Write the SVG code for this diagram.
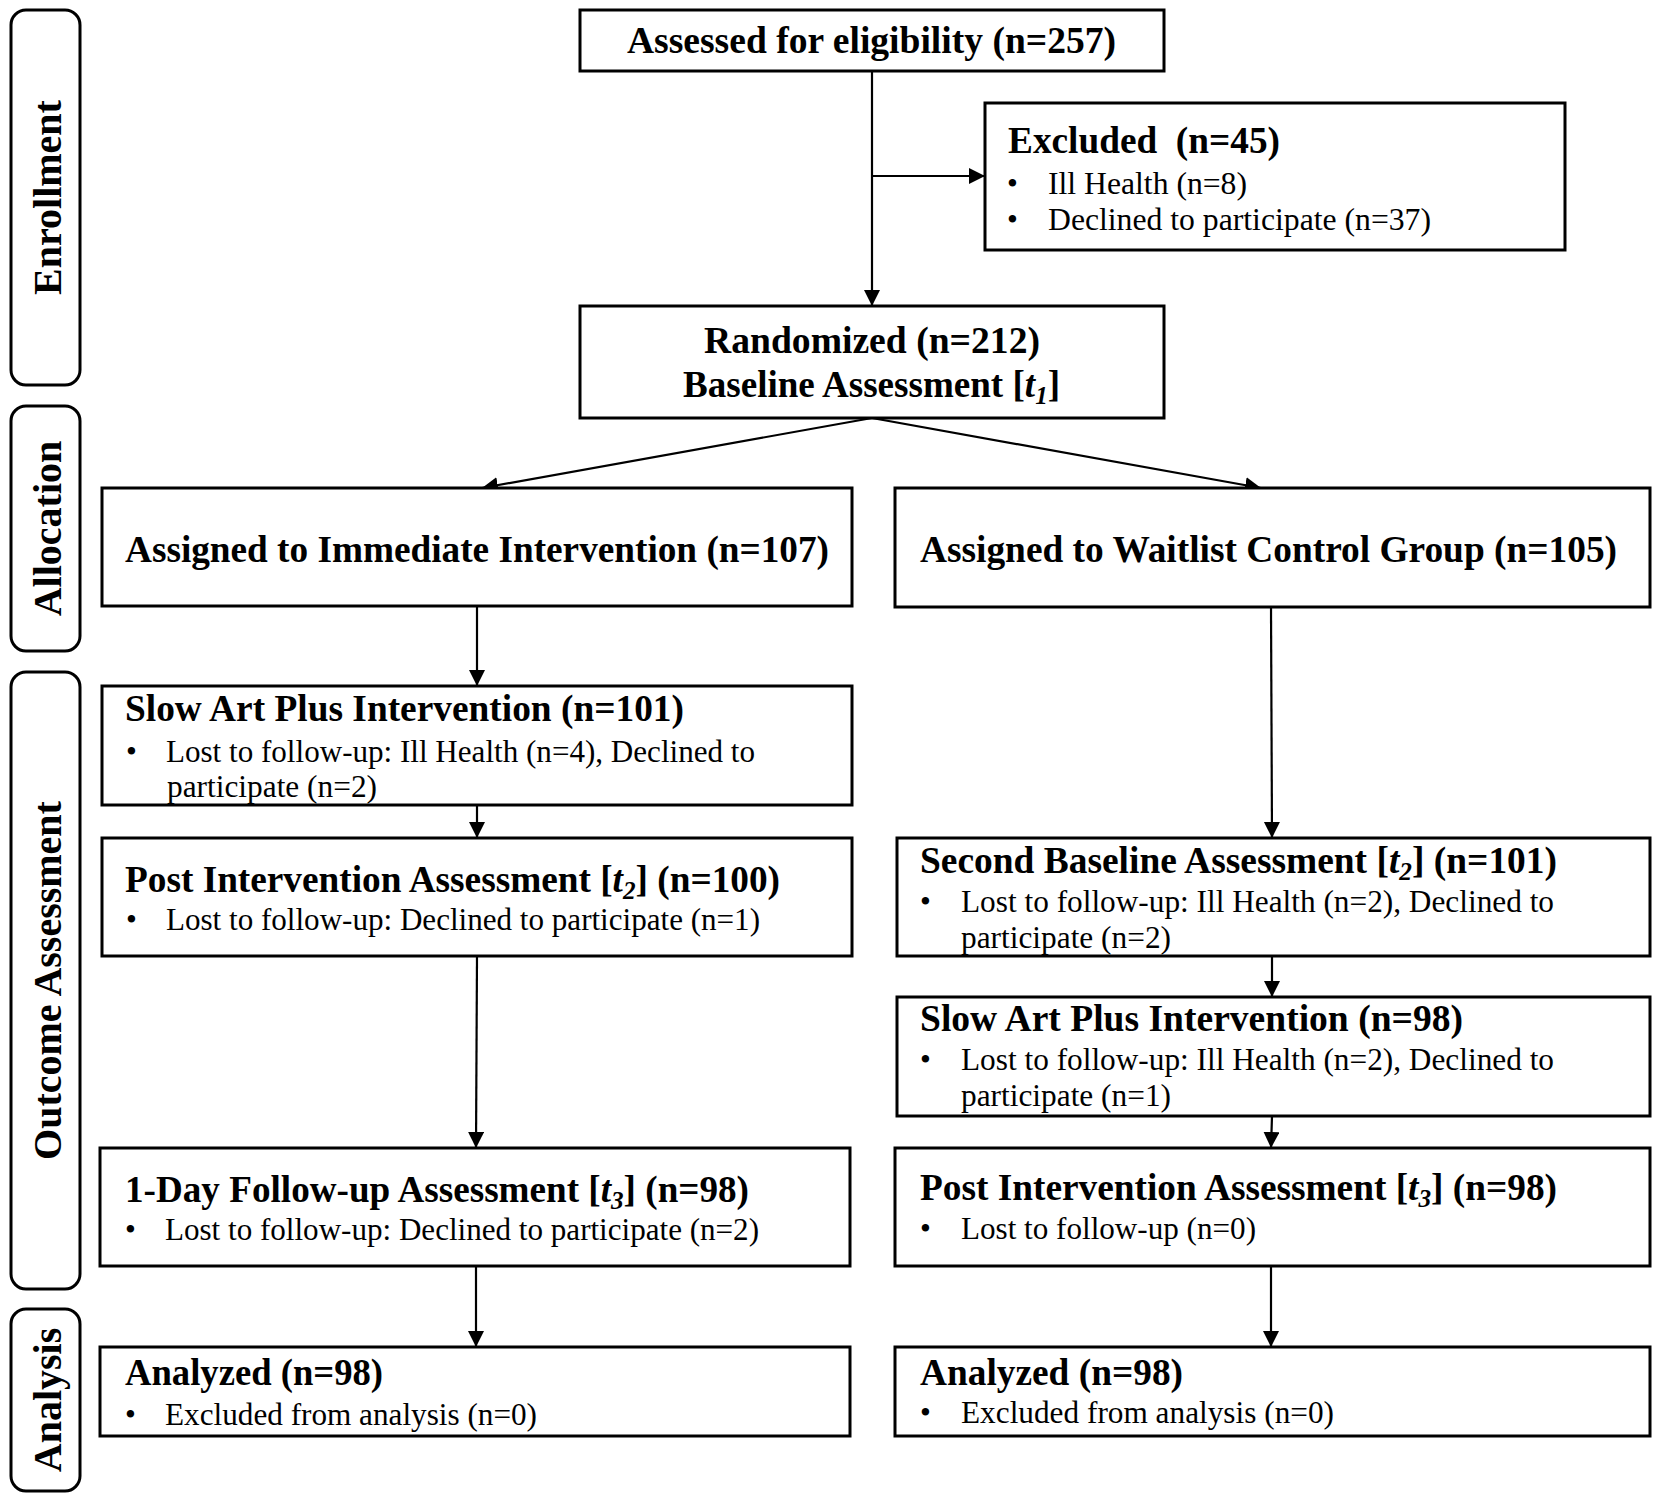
<svg xmlns="http://www.w3.org/2000/svg" width="1654" height="1506" viewBox="0 0 1654 1506">
<defs>
<style>
.box{fill:#fff;stroke:#000;stroke-width:3}
.lane{fill:#fff;stroke:#000;stroke-width:3}
.conn{fill:none;stroke:#000;stroke-width:2.2}
text{font-family:"Liberation Serif","Times New Roman",serif;fill:#000}
.h{font-size:37px;font-weight:bold}
.ha{font-size:38px;font-weight:bold}
.b{font-size:31px}
.lab{font-size:40px;font-weight:bold;text-anchor:middle}
.it{font-style:italic}
</style>
<marker id="ah" markerUnits="userSpaceOnUse" markerWidth="18" markerHeight="18" refX="16" refY="8" orient="auto">
<path d="M0,0 L16,8 L0,16 z" fill="#000"/>
</marker>
</defs>
<rect width="1654" height="1506" fill="#fff"/>

<g id="lanes">
<g id="lane-enrollment"><rect class="lane" x="11" y="10" width="69" height="375" rx="15"/><text class="lab" transform="translate(61,197.5) rotate(-90)">Enrollment</text></g>
<g id="lane-allocation"><rect class="lane" x="11" y="406" width="69" height="245" rx="15"/><text class="lab" transform="translate(61,528.5) rotate(-90)">Allocation</text></g>
<g id="lane-outcome"><rect class="lane" x="11" y="672" width="69" height="617" rx="15"/><text class="lab" transform="translate(61,980.5) rotate(-90)">Outcome Assessment</text></g>
<g id="lane-analysis"><rect class="lane" x="11" y="1309" width="69" height="182" rx="15"/><text class="lab" transform="translate(61,1400) rotate(-90)">Analysis</text></g>
</g>

<g id="connectors">
<line class="conn" x1="872" y1="71" x2="872" y2="306" marker-end="url(#ah)"/>
<line class="conn" x1="872" y1="176" x2="985" y2="176" marker-end="url(#ah)"/>
<line class="conn" x1="872" y1="418" x2="482" y2="488" marker-end="url(#ah)"/>
<line class="conn" x1="872" y1="418" x2="1261" y2="488" marker-end="url(#ah)"/>
<line class="conn" x1="477" y1="606" x2="477" y2="686" marker-end="url(#ah)"/>
<line class="conn" x1="477" y1="805" x2="477" y2="838" marker-end="url(#ah)"/>
<line class="conn" x1="477" y1="956" x2="476" y2="1148" marker-end="url(#ah)"/>
<line class="conn" x1="476" y1="1266" x2="476" y2="1347" marker-end="url(#ah)"/>
<line class="conn" x1="1271" y1="607" x2="1272" y2="838" marker-end="url(#ah)"/>
<line class="conn" x1="1272" y1="956" x2="1272" y2="997" marker-end="url(#ah)"/>
<line class="conn" x1="1272" y1="1116" x2="1271" y2="1148" marker-end="url(#ah)"/>
<line class="conn" x1="1271" y1="1266" x2="1271" y2="1347" marker-end="url(#ah)"/>
</g>

<g id="n-assessed">
<rect class="box" x="580" y="10" width="584" height="61"/>
<text class="h" x="627" y="53" textLength="489" lengthAdjust="spacingAndGlyphs">Assessed for eligibility (n=257)</text>
</g>

<g id="n-excluded">
<rect class="box" x="985" y="103" width="580" height="147"/>
<text class="h" x="1008" y="153" textLength="272" lengthAdjust="spacingAndGlyphs" xml:space="preserve">Excluded  (n=45)</text>
<text class="b" x="1007" y="194">•</text>
<text class="b" x="1048" y="194" textLength="199" lengthAdjust="spacingAndGlyphs">Ill Health (n=8)</text>
<text class="b" x="1007" y="230">•</text>
<text class="b" x="1048" y="230" textLength="383" lengthAdjust="spacingAndGlyphs">Declined to participate (n=37)</text>
</g>

<g id="n-randomized">
<rect class="box" x="580" y="306" width="584" height="112"/>
<text class="h" x="704" y="353" textLength="336" lengthAdjust="spacingAndGlyphs">Randomized (n=212)</text>
<text class="h" x="683" y="397" textLength="377" lengthAdjust="spacingAndGlyphs">Baseline Assessment [<tspan class="it">t</tspan><tspan class="it" font-size="25" dy="7">1</tspan><tspan dy="-7">]</tspan></text>
</g>

<g id="n-immediate">
<rect class="box" x="102" y="488" width="750" height="118"/>
<text class="ha" x="125" y="562" textLength="704" lengthAdjust="spacingAndGlyphs">Assigned to Immediate Intervention (n=107)</text>
</g>

<g id="n-waitlist">
<rect class="box" x="895" y="488" width="755" height="119"/>
<text class="ha" x="920" y="562" textLength="697" lengthAdjust="spacingAndGlyphs">Assigned to Waitlist Control Group (n=105)</text>
</g>

<g id="n-slowart-left">
<rect class="box" x="102" y="686" width="750" height="119"/>
<text class="h" x="125" y="721" textLength="559" lengthAdjust="spacingAndGlyphs">Slow Art Plus Intervention (n=101)</text>
<text class="b" x="126" y="762">•</text>
<text class="b" x="166" y="762" textLength="589" lengthAdjust="spacingAndGlyphs">Lost to follow-up: Ill Health (n=4), Declined to</text>
<text class="b" x="167" y="797" textLength="210" lengthAdjust="spacingAndGlyphs">participate (n=2)</text>
</g>

<g id="n-post-t2">
<rect class="box" x="102" y="838" width="750" height="118"/>
<text class="h" x="125" y="892" textLength="655" lengthAdjust="spacingAndGlyphs">Post Intervention Assessment [<tspan class="it">t</tspan><tspan class="it" font-size="25" dy="7">2</tspan><tspan dy="-7">] (n=100)</tspan></text>
<text class="b" x="126" y="930">•</text>
<text class="b" x="166" y="930" textLength="594" lengthAdjust="spacingAndGlyphs">Lost to follow-up: Declined to participate (n=1)</text>
</g>

<g id="n-followup-t3">
<rect class="box" x="100" y="1148" width="750" height="118"/>
<text class="h" x="125" y="1202" textLength="624" lengthAdjust="spacingAndGlyphs">1-Day Follow-up Assessment [<tspan class="it">t</tspan><tspan class="it" font-size="25" dy="7">3</tspan><tspan dy="-7">] (n=98)</tspan></text>
<text class="b" x="125" y="1240">•</text>
<text class="b" x="165" y="1240" textLength="594" lengthAdjust="spacingAndGlyphs">Lost to follow-up: Declined to participate (n=2)</text>
</g>

<g id="n-analyzed-left">
<rect class="box" x="100" y="1347" width="750" height="89"/>
<text class="h" x="125" y="1385" textLength="258" lengthAdjust="spacingAndGlyphs">Analyzed (n=98)</text>
<text class="b" x="125" y="1425">•</text>
<text class="b" x="165" y="1425" textLength="372" lengthAdjust="spacingAndGlyphs">Excluded from analysis (n=0)</text>
</g>

<g id="n-second-baseline">
<rect class="box" x="897" y="838" width="753" height="118"/>
<text class="h" x="920" y="873" textLength="637" lengthAdjust="spacingAndGlyphs">Second Baseline Assessment [<tspan class="it">t</tspan><tspan class="it" font-size="25" dy="7">2</tspan><tspan dy="-7">] (n=101)</tspan></text>
<text class="b" x="920" y="912">•</text>
<text class="b" x="961" y="912" textLength="593" lengthAdjust="spacingAndGlyphs">Lost to follow-up: Ill Health (n=2), Declined to</text>
<text class="b" x="961" y="948" textLength="210" lengthAdjust="spacingAndGlyphs">participate (n=2)</text>
</g>

<g id="n-slowart-right">
<rect class="box" x="897" y="997" width="753" height="119"/>
<text class="h" x="920" y="1031" textLength="543" lengthAdjust="spacingAndGlyphs">Slow Art Plus Intervention (n=98)</text>
<text class="b" x="920" y="1070">•</text>
<text class="b" x="961" y="1070" textLength="593" lengthAdjust="spacingAndGlyphs">Lost to follow-up: Ill Health (n=2), Declined to</text>
<text class="b" x="961" y="1106" textLength="210" lengthAdjust="spacingAndGlyphs">participate (n=1)</text>
</g>

<g id="n-post-t3">
<rect class="box" x="895" y="1148" width="755" height="118"/>
<text class="h" x="920" y="1200" textLength="637" lengthAdjust="spacingAndGlyphs">Post Intervention Assessment [<tspan class="it">t</tspan><tspan class="it" font-size="25" dy="7">3</tspan><tspan dy="-7">] (n=98)</tspan></text>
<text class="b" x="920" y="1239">•</text>
<text class="b" x="961" y="1239" textLength="295" lengthAdjust="spacingAndGlyphs">Lost to follow-up (n=0)</text>
</g>

<g id="n-analyzed-right">
<rect class="box" x="895" y="1347" width="755" height="89"/>
<text class="h" x="920" y="1385" textLength="263" lengthAdjust="spacingAndGlyphs">Analyzed (n=98)</text>
<text class="b" x="920" y="1423">•</text>
<text class="b" x="961" y="1423" textLength="373" lengthAdjust="spacingAndGlyphs">Excluded from analysis (n=0)</text>
</g>
</svg>
